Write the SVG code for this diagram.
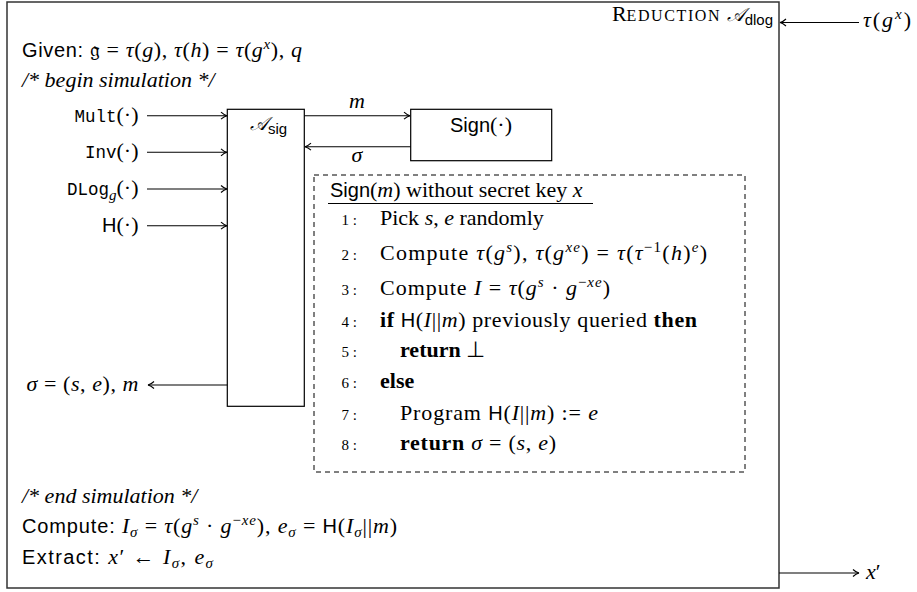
<svg xmlns="http://www.w3.org/2000/svg" width="917" height="592" viewBox="0 0 917 592">
<defs>
<style>
text{font-family:"Liberation Serif",serif;font-size:22px;fill:#000}
.i{font-style:italic}
.sf{font-family:"Liberation Sans",sans-serif;font-size:20px}
.tt{font-family:"Liberation Mono",monospace;font-size:17.5px}
.b{font-weight:bold}
.s{font-size:15px}
.n{font-size:15px}
.cal{font-style:italic;font-size:19px}
.box{fill:#fff;stroke:#000;stroke-width:1.2}
.outer{fill:none;stroke:#333;stroke-width:1.5}
.dash{fill:none;stroke:#000;stroke-width:1;stroke-dasharray:5 4}
.c{stroke:#000;stroke-width:1.1;fill:none;marker-end:url(#ah)}
</style>
<marker id="ah" markerUnits="userSpaceOnUse" viewBox="0 0 10 10" refX="9" refY="5" markerWidth="10" markerHeight="10" orient="auto">
<path d="M3,1.5 Q6,4.3 9,5 Q6,5.7 3,8.5" fill="none" stroke="#000" stroke-width="1.1"/>
</marker>
</defs>
<rect width="917" height="592" fill="#fff"/>
<g id="reduction">
<rect class="outer" x="7" y="2" width="772" height="586"/>
<text x="773" y="21" text-anchor="end">R<tspan font-size="16" letter-spacing="1.6">EDUCTION</tspan> <tspan class="cal">𝒜</tspan><tspan class="sf s" dy="4">dlog</tspan></text>
<text x="22" y="56.5" textLength="280" lengthAdjust="spacing"><tspan class="sf">Given:</tspan> 𝔤 = <tspan class="i">τ</tspan>(<tspan class="i">g</tspan>), <tspan class="i">τ</tspan>(<tspan class="i">h</tspan>) = <tspan class="i">τ</tspan>(<tspan class="i">g</tspan><tspan class="i s" dy="-8">x</tspan><tspan dy="8">),</tspan> <tspan class="i">q</tspan></text>
<text x="22" y="86.5" class="i">/* begin simulation */</text>
<text x="22" y="502.5" class="i">/* end simulation */</text>
<text x="22" y="533" textLength="375" lengthAdjust="spacing"><tspan class="sf">Compute:</tspan> <tspan class="i">I</tspan><tspan class="i s" dy="4">σ</tspan><tspan dy="-4"> = </tspan><tspan class="i">τ</tspan>(<tspan class="i">g</tspan><tspan class="i s" dy="-8">s</tspan><tspan dy="8"> · </tspan><tspan class="i">g</tspan><tspan class="s" dy="-8">−</tspan><tspan class="i s">xe</tspan><tspan dy="8">),</tspan> <tspan class="i">e</tspan><tspan class="i s" dy="4">σ</tspan><tspan dy="-4"> = </tspan><tspan class="sf">H</tspan>(<tspan class="i">I</tspan><tspan class="i s" dy="4">σ</tspan><tspan dy="-4">||</tspan><tspan class="i">m</tspan>)</text>
<text x="22" y="563.5" textLength="191" lengthAdjust="spacing"><tspan class="sf">Extract:</tspan> <tspan class="i">x</tspan>′ ← <tspan class="i">I</tspan><tspan class="i s" dy="4">σ</tspan><tspan dy="-4">,</tspan> <tspan class="i">e</tspan><tspan class="i s" dy="4">σ</tspan></text>
</g>
<g id="oracles">
<text x="138.5" y="121.5" text-anchor="end"><tspan class="tt">Mult</tspan>(·)</text>
<text x="138.5" y="158.3" text-anchor="end"><tspan class="tt">Inv</tspan>(·)</text>
<text x="138.5" y="195" text-anchor="end"><tspan class="tt">DLog</tspan><tspan class="i s" dy="5">g</tspan><tspan dy="-5">(·)</tspan></text>
<text x="138.5" y="231.5" text-anchor="end"><tspan class="sf">H</tspan>(·)</text>
</g>
<g id="asig">
<rect class="box" x="227.3" y="109.3" width="77" height="297"/>
<text x="250" y="130"><tspan class="cal">𝒜</tspan><tspan class="sf s" dy="4">sig</tspan></text>
</g>
<g id="sign">
<rect class="box" x="410.7" y="109.3" width="141" height="51.4"/>
<text x="481" y="131.5" text-anchor="middle"><tspan class="sf">Sign</tspan>(·)</text>
</g>
<g id="output">
<text x="138.5" y="391" text-anchor="end" textLength="112" lengthAdjust="spacing"><tspan class="i">σ</tspan> = (<tspan class="i">s</tspan>, <tspan class="i">e</tspan>), <tspan class="i">m</tspan></text>
</g>
<g id="input">
<text x="863" y="27" textLength="48" lengthAdjust="spacing"><tspan class="i">τ</tspan>(<tspan class="i">g</tspan><tspan class="i s" dy="-8">x</tspan><tspan dy="8">)</tspan></text>
</g>
<g id="result">
<text x="866" y="579"><tspan class="i">x</tspan>′</text>
</g>
<g id="simulator">
<rect class="dash" x="314" y="175" width="431" height="297"/>
<text x="330" y="196.5"><tspan class="sf">Sign</tspan>(<tspan class="i">m</tspan>) without secret key <tspan class="i">x</tspan></text>
<line x1="328" y1="203.5" x2="593" y2="203.5" stroke="#000" stroke-width="1"/>
<g class="nums">
<text class="n" x="357" y="225" text-anchor="end">1 :</text>
<text class="n" x="357" y="260" text-anchor="end">2 :</text>
<text class="n" x="357" y="295" text-anchor="end">3 :</text>
<text class="n" x="357" y="326.5" text-anchor="end">4 :</text>
<text class="n" x="357" y="356.5" text-anchor="end">5 :</text>
<text class="n" x="357" y="388" text-anchor="end">6 :</text>
<text class="n" x="357" y="420" text-anchor="end">7 :</text>
<text class="n" x="357" y="450" text-anchor="end">8 :</text>
</g>
<text x="380" y="225">Pick <tspan class="i">s</tspan>, <tspan class="i">e</tspan> randomly</text>
<text x="380" y="260" textLength="327" lengthAdjust="spacing">Compute <tspan class="i">τ</tspan>(<tspan class="i">g</tspan><tspan class="i s" dy="-8">s</tspan><tspan dy="8">),</tspan> <tspan class="i">τ</tspan>(<tspan class="i">g</tspan><tspan class="i s" dy="-8">xe</tspan><tspan dy="8">) =</tspan> <tspan class="i">τ</tspan>(<tspan class="i">τ</tspan><tspan class="s" dy="-8">−1</tspan><tspan dy="8">(</tspan><tspan class="i">h</tspan>)<tspan class="i s" dy="-8">e</tspan><tspan dy="8">)</tspan></text>
<text x="380" y="295" textLength="230" lengthAdjust="spacing">Compute <tspan class="i">I</tspan> = <tspan class="i">τ</tspan>(<tspan class="i">g</tspan><tspan class="i s" dy="-8">s</tspan><tspan dy="8"> · </tspan><tspan class="i">g</tspan><tspan class="s" dy="-8">−</tspan><tspan class="i s">xe</tspan><tspan dy="8">)</tspan></text>
<text x="380" y="326.5" textLength="317" lengthAdjust="spacing"><tspan class="b">if</tspan> <tspan class="sf">H</tspan>(<tspan class="i">I</tspan>||<tspan class="i">m</tspan>) previously queried <tspan class="b">then</tspan></text>
<text x="400" y="356.5"><tspan class="b">return</tspan> ⊥</text>
<text x="380" y="388"><tspan class="b">else</tspan></text>
<text x="400" y="420" textLength="198" lengthAdjust="spacing">Program <tspan class="sf">H</tspan>(<tspan class="i">I</tspan>||<tspan class="i">m</tspan>) := <tspan class="i">e</tspan></text>
<text x="400" y="450" textLength="156" lengthAdjust="spacing"><tspan class="b">return</tspan> <tspan class="i">σ</tspan> = (<tspan class="i">s</tspan>, <tspan class="i">e</tspan>)</text>
</g>
<g id="connectors">
<line class="c" x1="147" y1="115.7" x2="227" y2="115.7"/>
<line class="c" x1="147" y1="152.3" x2="227" y2="152.3"/>
<line class="c" x1="147" y1="189" x2="227" y2="189"/>
<line class="c" x1="147" y1="225.7" x2="227" y2="225.7"/>
<line class="c" x1="304.3" y1="115.7" x2="410" y2="115.7"/>
<line class="c" x1="410.7" y1="146.7" x2="305" y2="146.7"/>
<text x="357" y="107.5" text-anchor="middle" class="i">m</text>
<text x="357" y="162" text-anchor="middle" class="i">σ</text>
<line class="c" x1="227.3" y1="385" x2="148" y2="385"/>
<line class="c" x1="859" y1="22.5" x2="780" y2="22.5"/>
<line class="c" x1="779" y1="573" x2="859" y2="573"/>
</g>
</svg>
